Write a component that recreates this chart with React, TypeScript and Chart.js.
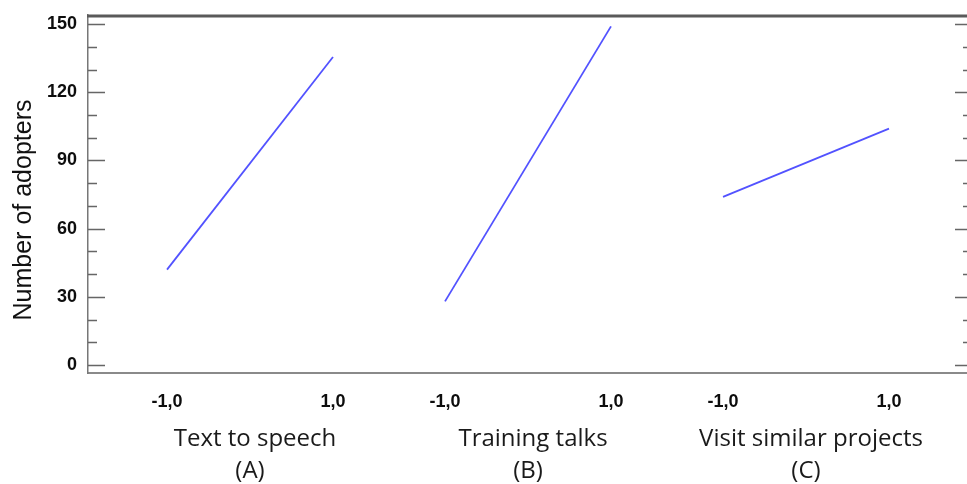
import { useEffect, useRef } from "react";
import { Chart, registerables } from "chart.js";

Chart.register(...registerables);

// ---- data ----
const factorNames = ["Text to speech", "Training talks", "Visit similar projects"];
const factorCodes = ["(A)", "(B)", "(C)"];
const levels = [-1, 1];
const levelLabels = ["-1,0", "1,0"];
const textToSpeech = [42, 135.5];
const trainingTalks = [28, 149];
const visitSimilarProjects = [74, 104];
const yTickValues = [0, 30, 60, 90, 120, 150];
const yTitle = "Number of adopters";

const seriesValues = [textToSpeech, trainingTalks, visitSimilarProjects];

// layout constants (x units between panel centres)
const GROUP_GAP = 3.35;
const X_MIN = -1.952;
const X_MAX = 8.64;
const Y_MIN = -3.5;
const Y_MAX = 154;

const decorPlugin = {
  id: "decor",
  afterDraw(chart: any) {
    const { ctx, chartArea, scales } = chart;
    const xs = scales.x;
    const ys = scales.y;
    ctx.save();
    // top border
    ctx.strokeStyle = "#5a5a5a";
    ctx.lineWidth = 3;
    ctx.beginPath();
    ctx.moveTo(chartArea.left - 1, chartArea.top + 1);
    ctx.lineTo(chartArea.right, chartArea.top + 1);
    ctx.stroke();

    // inward ticks, left and right
    ctx.lineWidth = 1.5;
    ctx.strokeStyle = "#666";
    for (let v = 0; v <= 150; v += 10) {
      const y = Math.round(ys.getPixelForValue(v)) + 0.5;
      const major = v % 30 === 0;
      ctx.beginPath();
      ctx.moveTo(chartArea.left, y);
      ctx.lineTo(chartArea.left + (major ? 17 : 9), y);
      ctx.moveTo(chartArea.right, y);
      ctx.lineTo(chartArea.right - (major ? 12 : 4), y);
      ctx.stroke();
    }

    // factor titles
    ctx.fillStyle = "#1a1a1a";
    ctx.font = '500 24px "Open Sans"';
    ctx.textAlign = "center";
    ctx.textBaseline = "middle";
    factorNames.forEach((name, i) => {
      const cx = xs.getPixelForValue(i * GROUP_GAP);
      ctx.fillText(name, cx + 5, 439);
      ctx.fillText(factorCodes[i], cx, 471);
    });

    // y title
    ctx.translate(24, 210);
    ctx.rotate(-Math.PI / 2);
    ctx.font = '25px Arial, "Liberation Sans"';
    ctx.fillStyle = "#111";
    ctx.fillText(yTitle, 0, 0);
    ctx.restore();
  },
};

export default function App() {
  const ref = useRef<HTMLCanvasElement | null>(null);

  useEffect(() => {
    if (!ref.current) return;
    const xTickPositions: number[] = [];
    factorNames.forEach((_, i) => levels.forEach((l) => xTickPositions.push(l + i * GROUP_GAP)));

    const chart = new Chart(ref.current, {
      type: "line",
      data: {
        datasets: seriesValues.map((vals, i) => ({
          label: factorNames[i],
          data: levels.map((l, j) => ({ x: l + i * GROUP_GAP, y: vals[j] })),
          borderColor: "#5252ff",
          borderWidth: 1.8,
          pointRadius: 0,
          tension: 0,
          fill: false,
        })),
      },
      options: {
        animation: false,
        responsive: false,
        devicePixelRatio: 1,
        layout: { padding: { left: 0, right: 0, top: 15, bottom: 0 } },
        plugins: {
          legend: { display: false },
          tooltip: { enabled: false },
        },
        scales: {
          x: {
            type: "linear",
            min: X_MIN,
            max: X_MAX,
            grid: { display: false, drawTicks: false },
            border: { display: true, color: "#8a8a8a", width: 2 },
            afterBuildTicks: (scale: any) => {
              scale.ticks = xTickPositions.map((v) => ({ value: v }));
            },
            afterFit: (scale: any) => {
              scale.height = 111;
              scale.paddingLeft = 0;
              scale.paddingRight = 0;
            },
            ticks: {
              autoSkip: false,
              maxRotation: 0,
              padding: 18,
              color: "#0d0d0d",
              font: { family: 'Arial, "Liberation Sans"', size: 18, weight: "bold" },
              callback: (_v: any, idx: number) => levelLabels[idx % 2],
            },
          },
          y: {
            type: "linear",
            min: Y_MIN,
            max: Y_MAX,
            grid: { display: false, drawTicks: false },
            border: { display: true, color: "#777", width: 1.5 },
            afterBuildTicks: (scale: any) => {
              scale.ticks = yTickValues.map((v) => ({ value: v }));
            },
            afterFit: (scale: any) => {
              scale.width = 88;
              scale.paddingTop = 0;
              scale.paddingBottom = 0;
            },
            ticks: {
              padding: 11,
              color: "#0d0d0d",
              font: { family: 'Arial, "Liberation Sans"', size: 18, weight: "bold" },
              callback: (v: any) => String(v),
            },
          },
        },
      },
      plugins: [decorPlugin],
    } as any);
    return () => chart.destroy();
  }, []);

  return (
    <div style={{ position: "fixed", left: 0, top: 0, width: 967, height: 484, background: "#fff" }}>
      <canvas ref={ref} width={967} height={484} style={{ display: "block" }} />
    </div>
  );
}
